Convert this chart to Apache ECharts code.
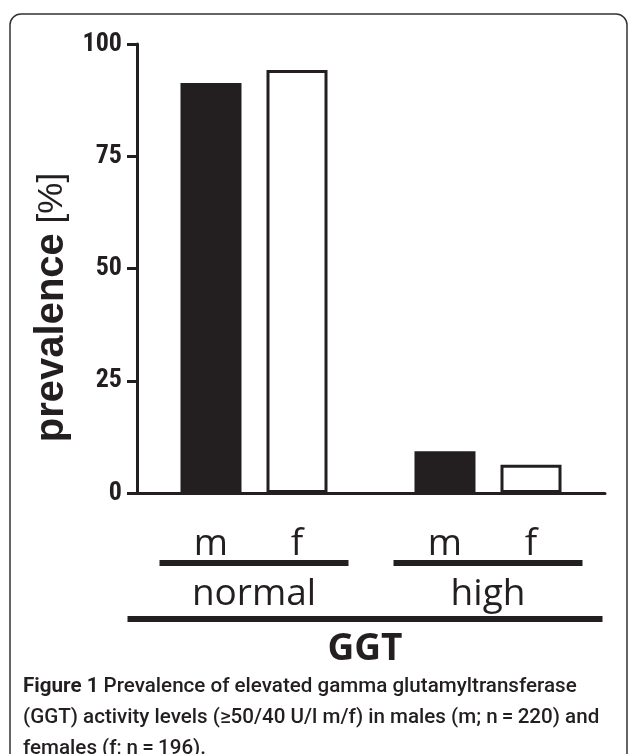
<!DOCTYPE html>
<html>
<head>
<meta charset="utf-8">
<script src="https://cdn.jsdelivr.net/npm/echarts@6/dist/echarts.min.js"></script>
<style>
  html, body { margin: 0; padding: 0; background: #fff; }
  #chart { width: 629px; height: 754px; }
</style>
</head>
<body>
<div id="chart"></div>
<script>
// data
const groups = ['normal', 'high']
const males = [91.3, 9.3]
const females = [94.2, 6.3]
const yTicks = [0, 25, 50, 75, 100]

const ink = '#231f20'

const chart = echarts.init(document.getElementById('chart'))

const subLabel = {
  show: true,
  position: ['50%', '100%'],
  offset: [0, 51],
  align: 'center',
  verticalAlign: 'middle',
  formatter: p => p.seriesName,
  fontFamily: 'Open Sans',
  fontSize: 37,
  color: ink
}

chart.setOption({
  animation: false,
  title: {
    left: 18,
    top: 666,
    text: '{b|Figure 1} Prevalence of elevated gamma glutamyltransferase\n(GGT) activity levels (\u226550/40 U/l m/f) in males (m; n\u2009=\u2009220) and\nfemales (f; n\u2009=\u2009196).',
    textStyle: {
      fontFamily: 'Roboto',
      fontWeight: 500,
      fontSize: 20.6,
      lineHeight: 31,
      color: ink,
      rich: {
        b: { fontFamily: 'Roboto', fontWeight: 'bold', fontSize: 20.6, lineHeight: 31, color: ink }
      }
    }
  },
  grid: { left: 137, right: 24, top: 44, bottom: 261 },
  xAxis: {
    type: 'category',
    data: groups,
    axisLine: { lineStyle: { color: ink, width: 3 } },
    axisTick: { alignWithLabel: true, length: 11, lineStyle: { color: ink, width: 3 } },
    axisLabel: {
      margin: 67,
      formatter: v => '{line|}\n{t|' + v + '}',
      rich: {
        line: { width: 189, height: 6, backgroundColor: ink },
        t: { fontFamily: 'Open Sans', fontSize: 37, lineHeight: 56, color: ink }
      }
    },
    name: '{line|}\n{t|GGT}',
    nameLocation: 'middle',
    nameGap: 123,
    nameMoveOverlap: false,
    nameTextStyle: {
      padding: [0, 12, 0, 0],
      rich: {
        line: { width: 475, height: 6, backgroundColor: ink },
        t: { fontFamily: 'Open Sans', fontWeight: 'bold', fontSize: 37, lineHeight: 54, color: ink }
      }
    }
  },
  yAxis: {
    type: 'value',
    min: 0,
    max: 100,
    interval: 25,
    splitLine: { show: false },
    axisLine: { show: true, lineStyle: { color: ink, width: 3 } },
    axisTick: { show: true, length: 10, lineStyle: { color: ink, width: 3 } },
    axisLabel: {
      margin: 15,
      fontFamily: '"Roboto Condensed", "Liberation Sans Narrow", Roboto, sans-serif',
      fontWeight: 'bold',
      fontSize: 26,
      color: ink,
      formatter: v => yTicks.includes(v) ? String(v) : ''
    },
    name: '{b|prevalence}{n| [%]}',
    nameLocation: 'middle',
    nameRotate: 90,
    nameGap: 65,
    nameMoveOverlap: false,
    nameTextStyle: {
      padding: [0, 78, 0, 0],
      rich: {
        b: { fontFamily: 'Liberation Sans', fontWeight: 'bold', fontSize: 40, color: ink },
        n: { fontFamily: 'Liberation Sans', fontSize: 35, color: ink }
      }
    }
  },
  series: [
    {
      name: 'm',
      type: 'bar',
      data: males,
      barWidth: 61,
      barGap: '41%',
      itemStyle: { color: ink },
      label: subLabel
    },
    {
      name: 'f',
      type: 'bar',
      data: females,
      barWidth: 61,
      itemStyle: { color: '#fff', borderColor: ink, borderWidth: 3 },
      label: subLabel
    }
  ],
  graphic: [{
    type: 'rect',
    z: -10,
    shape: { x: 10, y: 14, width: 617, height: 800, r: 11 },
    style: { fill: 'none', stroke: '#333', lineWidth: 1.5 }
  }]
})
</script>
</body>
</html>
